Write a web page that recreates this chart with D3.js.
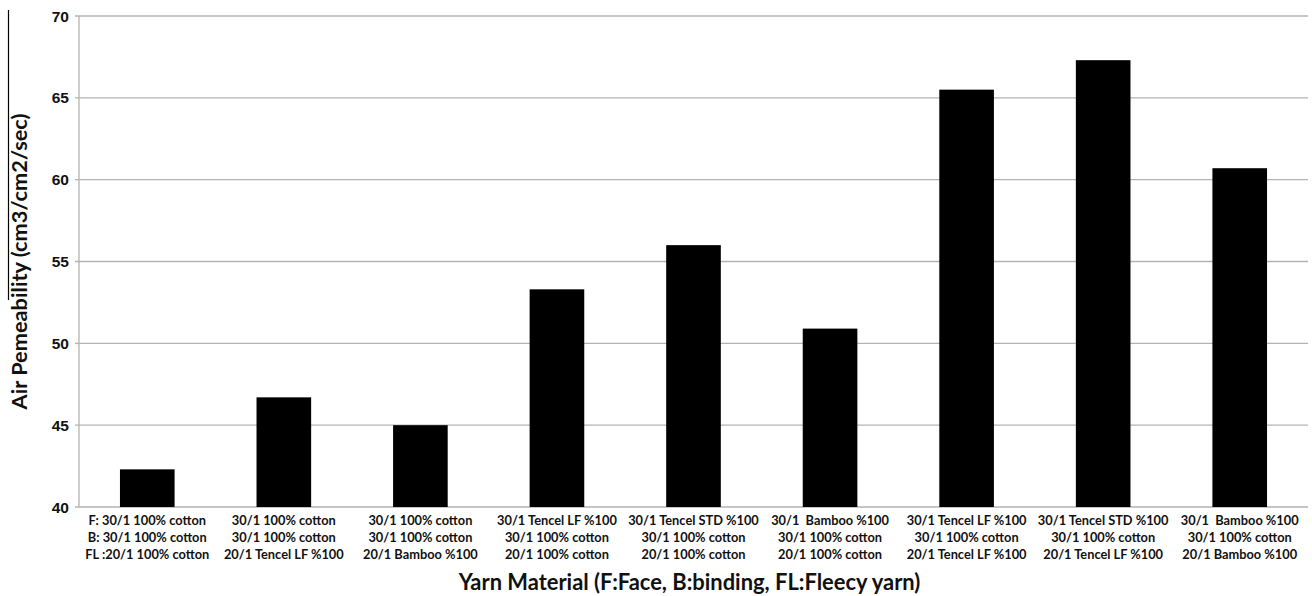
<!DOCTYPE html>
<html><head><meta charset="utf-8">
<script src="https://cdn.jsdelivr.net/npm/d3@7"></script>
<style>body{margin:0;background:#fff}svg{display:block}</style>
</head><body><svg id="c" width="1312" height="596"></svg>
<script>
const categories = [
  ["F: 30/1 100% cotton","B: 30/1 100% cotton","FL :20/1 100% cotton"],
  ["30/1 100% cotton","30/1 100% cotton","20/1 Tencel LF %100"],
  ["30/1 100% cotton","30/1 100% cotton","20/1 Bamboo %100"],
  ["30/1 Tencel LF %100","30/1 100% cotton","20/1 100% cotton"],
  ["30/1 Tencel STD %100","30/1 100% cotton","20/1 100% cotton"],
  ["30/1  Bamboo %100","30/1 100% cotton","20/1 100% cotton"],
  ["30/1 Tencel LF %100","30/1 100% cotton","20/1 Tencel LF %100"],
  ["30/1 Tencel STD %100","30/1 100% cotton","20/1 Tencel LF %100"],
  ["30/1  Bamboo %100","30/1 100% cotton","20/1 Bamboo %100"]
];
const values = [42.3, 46.7, 45.0, 53.3, 56.0, 50.9, 65.5, 67.3, 60.7];
const yTicks = [40, 45, 50, 55, 60, 65, 70];
const yTitle = "Air Pemeability (cm3/cm2/sec)";
const xTitle = "Yarn Material (F:Face, B:binding, FL:Fleecy yarn)";

const svg = d3.select("#c");
const L = 79, R = 1308, T = 16, B = 507;
const x = d3.scaleBand().domain(d3.range(values.length)).range([L, R]).paddingInner(0.6).paddingOuter(0.3);
const y = d3.scaleLinear().domain([40, 70]).range([B, T]);

function fit(sel, target) {
  const fs = parseFloat(sel.attr("font-size"));
  const w = sel.node().getComputedTextLength();
  sel.attr("font-size", fs * target / w);
}

// gridlines
svg.append("g").selectAll("line").data(yTicks).join("line")
  .attr("x1", L - 4).attr("x2", R).attr("y1", d => y(d)).attr("y2", d => y(d))
  .attr("stroke", "#b3b3b3").attr("stroke-width", 1.3);
// y axis line
svg.append("line").attr("x1", L).attr("x2", L).attr("y1", T).attr("y2", B)
  .attr("stroke", "#b3b3b3").attr("stroke-width", 1.3);

// y tick labels
svg.append("g").selectAll("text").data(yTicks).join("text")
  .attr("x", L - 10).attr("y", d => y(d)).attr("dy", "0.36em")
  .attr("text-anchor", "end").attr("font-family", "Liberation Sans, Arial, sans-serif")
  .attr("font-weight", "bold").attr("font-size", 15.5).attr("fill", "#111").text(d => d);

// bars
svg.append("g").selectAll("rect").data(values).join("rect")
  .attr("x", (d, i) => x(i)).attr("width", x.bandwidth())
  .attr("y", d => y(d)).attr("height", d => y(40) - y(d)).attr("fill", "#000");

// x labels
const xl = svg.append("g").selectAll("text").data(categories).join("text")
  .attr("text-anchor", "middle").attr("font-family", "Lato, 'Open Sans', sans-serif")
  .attr("font-weight", "bold").attr("font-size", 12.8).attr("fill", "#111");
xl.each(function(lines, i) {
  const t = d3.select(this);
  lines.forEach((s, k) => t.append("tspan").attr("x", x(i) + x.bandwidth() / 2)
    .attr("y", 525 + k * 17).attr("xml:space", "preserve").text(s));
});

// axis titles
const yt = svg.append("text").attr("transform", `translate(27,${(T + B) / 2}) rotate(-90)`)
  .attr("text-anchor", "middle").attr("font-family", "Lato, 'Open Sans', sans-serif")
  .attr("font-weight", "bold").attr("font-size", 20).attr("fill", "#111").text(yTitle);
fit(yt, 296);
const xt = svg.append("text").attr("x", (L + R) / 2 - 4).attr("y", 590)
  .attr("text-anchor", "middle").attr("font-family", "Lato, 'Open Sans', sans-serif")
  .attr("font-weight", "bold").attr("font-size", 22).attr("fill", "#111").text(xTitle);
fit(xt, 462);

// stray vertical rule at left edge in the source
svg.append("line").attr("x1", 8.5).attr("x2", 8.5).attr("y1", 10).attr("y2", 300)
  .attr("stroke", "#000").attr("stroke-width", 1.2);
</script></body></html>
